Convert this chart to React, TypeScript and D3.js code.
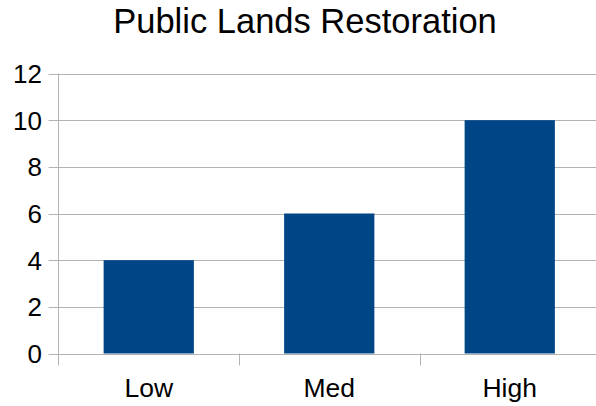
import { useEffect, useRef } from 'react'
import * as d3 from 'd3'

const categories = ['Low', 'Med', 'High']
const values = [4, 6, 10]
const yTicks = [0, 2, 4, 6, 8, 10, 12]
const title = 'Public Lands Restoration'

const W = 596
const H = 406
const FONT = '"Liberation Sans", Arial, sans-serif'

export default function App() {
  const svgRef = useRef<SVGSVGElement>(null)

  useEffect(() => {
    if (!svgRef.current) return
    const svg = d3.select(svgRef.current)
    svg.selectAll('*').remove()

    const left = 58.5
    const right = 600
    const top = 73.5
    const bottom = 353.5

    const x = d3.scaleBand<string>().domain(categories).range([left, right])
      .paddingInner(0.5).paddingOuter(0.25)
    const y = d3.scaleLinear().domain([0, 12]).range([bottom, top])

    svg.append('rect').attr('width', W).attr('height', H).attr('fill', '#ffffff')

    // Title
    svg.append('text').attr('x', 305).attr('y', 33)
      .attr('text-anchor', 'middle').attr('font-family', FONT).attr('font-size', '34.5px')
      .attr('fill', '#000').text(title)

    // Grid lines + y ticks
    yTicks.forEach(t => {
      svg.append('line')
        .attr('x1', left - 10).attr('x2', right)
        .attr('y1', Math.round(y(t)) + 0.5).attr('y2', Math.round(y(t)) + 0.5)
        .attr('stroke', '#b3b3b3').attr('stroke-width', 1)
      svg.append('text')
        .attr('x', 42).attr('y', y(t) + 9.5)
        .attr('text-anchor', 'end').attr('font-family', FONT).attr('font-size', '26px')
        .attr('fill', '#000').text(t)
    })

    // Y axis line
    svg.append('line').attr('x1', left).attr('x2', left).attr('y1', top).attr('y2', bottom + 12)
      .attr('stroke', '#b3b3b3').attr('stroke-width', 1)

    // Category boundary ticks
    const step = x.step()
    categories.forEach((c, i) => {
      if (i === 0) return
      const bx = Math.round((x(c) ?? 0) - step * 0.25) + 0.5
      svg.append('line').attr('x1', bx).attr('x2', bx).attr('y1', bottom).attr('y2', bottom + 12)
        .attr('stroke', '#b3b3b3').attr('stroke-width', 1)
    })

    // Bars
    svg.selectAll('rect.bar').data(values).enter().append('rect')
      .attr('class', 'bar')
      .attr('x', (_, i) => x(categories[i]) ?? 0)
      .attr('width', x.bandwidth())
      .attr('y', d => y(d))
      .attr('height', d => bottom - y(d))
      .attr('fill', '#004586')

    // X labels
    categories.forEach(c => {
      svg.append('text')
        .attr('x', (x(c) ?? 0) + x.bandwidth() / 2).attr('y', 397)
        .attr('text-anchor', 'middle').attr('font-family', FONT).attr('font-size', '26.5px')
        .attr('fill', '#000').text(c)
    })
  }, [])

  return (
    <svg ref={svgRef} width={W} height={H}
      style={{ position: 'absolute', left: 0, top: 0, display: 'block' }} />
  )
}
